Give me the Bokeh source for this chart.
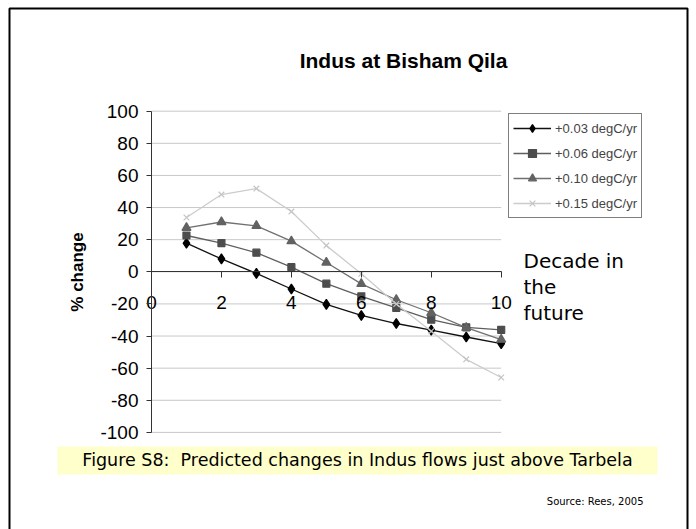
from bokeh.plotting import figure
from bokeh.models import Range1d, Label, BoxAnnotation, Legend, LegendItem, FixedTicker, NumeralTickFormatter
from bokeh.embed import file_html
from bokeh.resources import INLINE

# ---- data ----
decades = [1, 2, 3, 4, 5, 6, 7, 8, 9, 10]
s003 = [17.8, 8.0, -1.0, -10.7, -20.3, -27.2, -32.2, -36.3, -40.6, -44.7]
s006 = [22.6, 17.9, 11.9, 2.9, -7.4, -15.3, -22.5, -29.8, -34.6, -36.1]
s010 = [27.4, 31.0, 28.6, 19.1, 5.8, -7.5, -17.4, -25.5, -34.8, -42.2]
s015 = [33.8, 48.1, 51.8, 37.5, 16.3, -1.2, -20.0, -37.0, -54.5, -65.8]
series_labels = ["+0.03 degC/yr", "+0.06 degC/yr", "+0.10 degC/yr", "+0.15 degC/yr"]
x_ticks = [0, 2, 4, 6, 8, 10]
y_ticks = [-100, -80, -60, -40, -20, 0, 20, 40, 60, 80, 100]

# ---- layout (canvas pixels) ----
W, H = 696, 529
PX0, PX10 = 151.0, 500.7      # x = 0 and x = 10
PY100, PYM100 = 110.7, 431.9  # y = 100 and y = -100
XS = (PX10 - PX0) / 10.0
YS = (PYM100 - PY100) / 200.0


def dx(px):
    return (px - PX0) / XS


def dy(py):
    return 100.0 - (py - PY100) / YS


p = figure(width=W, height=H, x_range=Range1d(dx(0), dx(W)), y_range=Range1d(dy(H), dy(0)),
           output_backend="svg", toolbar_location=None,
           min_border_left=0, min_border_right=0, min_border_top=0, min_border_bottom=0)
p.outline_line_color = None
p.background_fill_color = "white"
p.border_fill_color = "white"

# slide border and caption band
p.add_layout(BoxAnnotation(left=dx(9), right=dx(687), top=dy(8), bottom=dy(700),
                           fill_alpha=0, line_color="black", line_alpha=1, line_width=2,
                           level="underlay"))
p.add_layout(BoxAnnotation(left=dx(57), right=dx(657), top=dy(446), bottom=dy(474),
                           fill_color="#FFFFCC", fill_alpha=1, line_color=None, level="underlay"))

# horizontal gridlines spanning the chart only
p.segment(x0=x_ticks[0], x1=x_ticks[-1], y0=y_ticks, y1=y_ticks, line_color="#c8c8c8", line_width=1)

# axes
axis_color = "#333333"
p.xgrid.visible = False
p.ygrid.visible = False

p.xaxis.fixed_location = 0
p.xaxis.bounds = (x_ticks[0], x_ticks[-1])
p.xaxis.ticker = FixedTicker(ticks=x_ticks)
p.xaxis.formatter = NumeralTickFormatter(format="0")
p.xaxis.minor_tick_line_color = None
p.xaxis.major_tick_in = 0
p.xaxis.major_tick_out = 6
p.xaxis.major_label_standoff = 18
p.xaxis.axis_line_color = axis_color
p.xaxis.major_tick_line_color = axis_color
p.xaxis.major_label_text_font = "Liberation Sans"
p.xaxis.major_label_text_font_size = "19px"
p.xaxis.major_label_text_color = "black"

p.yaxis.fixed_location = 0
p.yaxis.bounds = (y_ticks[0], y_ticks[-1])
p.yaxis.ticker = FixedTicker(ticks=y_ticks)
p.yaxis.formatter = NumeralTickFormatter(format="0")
p.yaxis.minor_tick_line_color = None
p.yaxis.major_tick_in = 0
p.yaxis.major_tick_out = 5
p.yaxis.major_label_standoff = 8
p.yaxis.axis_line_color = axis_color
p.yaxis.major_tick_line_color = axis_color
p.yaxis.major_label_text_font = "Liberation Sans"
p.yaxis.major_label_text_font_size = "19px"
p.yaxis.major_label_text_color = "black"
p.yaxis.axis_label = "% change"
p.yaxis.axis_label_text_font = "Liberation Sans"
p.yaxis.axis_label_text_font_style = "bold"
p.yaxis.axis_label_text_font_size = "17px"
p.yaxis.axis_label_text_color = "black"
p.yaxis.axis_label_standoff = 10

# series
styles = [
    (s003, "diamond", 10, "#000000", "#111111"),
    (s006, "square", 7, "#4d4d4d", "#5e5e5e"),
    (s010, "triangle", 9, "#626262", "#707070"),
    (s015, "x", 8, "#c4c4c4", "#cccccc"),
]
items = []
for (vals, mk, sz, mcol, lcol), lab in zip(styles, series_labels):
    r = p.line(decades, vals, line_color=lcol, line_width=1.3)
    m = p.scatter(decades, vals, marker=mk, size=sz, fill_color=mcol, line_color=mcol, line_width=1.2)
    items.append(LegendItem(label=lab, renderers=[r, m]))

legend = Legend(items=items, location=(508, H - 218),
                label_text_font="Liberation Sans", label_text_font_size="13px",
                glyph_width=38, glyph_height=20, label_height=20, spacing=5,
                padding=4, margin=0, label_standoff=4,
                border_line_color="black", border_line_width=1,
                background_fill_color="white", background_fill_alpha=1)
p.add_layout(legend)

# texts
p.add_layout(Label(x=dx(403), y=dy(60), text="Indus at Bisham Qila", text_align="center",
                   text_baseline="middle", text_font="Liberation Sans", text_font_style="bold",
                   text_font_size="21px", text_color="black"))
for t, yy in zip(["Decade in", "the", "future"], [260, 286, 312]):
    p.add_layout(Label(x=dx(523), y=dy(yy), text=t, text_align="left", text_baseline="middle",
                       text_font="DejaVu Sans", text_font_size="20px", text_color="black"))
p.add_layout(Label(x=dx(357), y=dy(459.5),
                   text="Figure S8:\u00a0 Predicted changes in Indus flows just above Tarbela",
                   text_align="center", text_baseline="middle", text_font="DejaVu Sans",
                   text_font_size="17.5px", text_color="black"))
p.add_layout(Label(x=dx(643), y=dy(501), text="Source: Rees, 2005", text_align="right",
                   text_baseline="middle", text_font="DejaVu Sans", text_font_size="10px",
                   text_color="black"))

open("out.html", "w").write(file_html(p, INLINE))
